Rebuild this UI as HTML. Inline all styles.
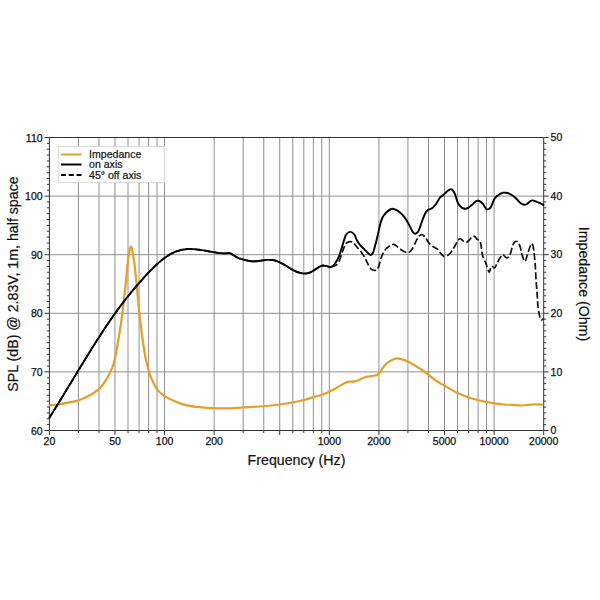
<!DOCTYPE html>
<html><head><meta charset="utf-8"><style>html,body{margin:0;padding:0;background:#fff;width:600px;height:600px;overflow:hidden}svg{display:block}</style></head>
<body><svg width="600" height="600" viewBox="0 0 600 600">
<rect width="600" height="600" fill="#fff"/>
<line x1="78.41" y1="137.5" x2="78.41" y2="430.5" stroke="#8f8f8f" stroke-width="1"/>
<line x1="99.00" y1="137.5" x2="99.00" y2="430.5" stroke="#8f8f8f" stroke-width="1"/>
<line x1="114.97" y1="137.5" x2="114.97" y2="430.5" stroke="#8f8f8f" stroke-width="1"/>
<line x1="128.01" y1="137.5" x2="128.01" y2="430.5" stroke="#8f8f8f" stroke-width="1"/>
<line x1="139.04" y1="137.5" x2="139.04" y2="430.5" stroke="#8f8f8f" stroke-width="1"/>
<line x1="148.60" y1="137.5" x2="148.60" y2="430.5" stroke="#8f8f8f" stroke-width="1"/>
<line x1="157.03" y1="137.5" x2="157.03" y2="430.5" stroke="#8f8f8f" stroke-width="1"/>
<line x1="164.57" y1="137.5" x2="164.57" y2="430.5" stroke="#8f8f8f" stroke-width="1"/>
<line x1="214.17" y1="137.5" x2="214.17" y2="430.5" stroke="#8f8f8f" stroke-width="1"/>
<line x1="243.18" y1="137.5" x2="243.18" y2="430.5" stroke="#8f8f8f" stroke-width="1"/>
<line x1="263.77" y1="137.5" x2="263.77" y2="430.5" stroke="#8f8f8f" stroke-width="1"/>
<line x1="279.73" y1="137.5" x2="279.73" y2="430.5" stroke="#8f8f8f" stroke-width="1"/>
<line x1="292.78" y1="137.5" x2="292.78" y2="430.5" stroke="#8f8f8f" stroke-width="1"/>
<line x1="303.81" y1="137.5" x2="303.81" y2="430.5" stroke="#8f8f8f" stroke-width="1"/>
<line x1="313.37" y1="137.5" x2="313.37" y2="430.5" stroke="#8f8f8f" stroke-width="1"/>
<line x1="321.79" y1="137.5" x2="321.79" y2="430.5" stroke="#8f8f8f" stroke-width="1"/>
<line x1="329.33" y1="137.5" x2="329.33" y2="430.5" stroke="#8f8f8f" stroke-width="1"/>
<line x1="378.93" y1="137.5" x2="378.93" y2="430.5" stroke="#8f8f8f" stroke-width="1"/>
<line x1="407.95" y1="137.5" x2="407.95" y2="430.5" stroke="#8f8f8f" stroke-width="1"/>
<line x1="428.53" y1="137.5" x2="428.53" y2="430.5" stroke="#8f8f8f" stroke-width="1"/>
<line x1="444.50" y1="137.5" x2="444.50" y2="430.5" stroke="#8f8f8f" stroke-width="1"/>
<line x1="457.55" y1="137.5" x2="457.55" y2="430.5" stroke="#8f8f8f" stroke-width="1"/>
<line x1="468.58" y1="137.5" x2="468.58" y2="430.5" stroke="#8f8f8f" stroke-width="1"/>
<line x1="478.13" y1="137.5" x2="478.13" y2="430.5" stroke="#8f8f8f" stroke-width="1"/>
<line x1="486.56" y1="137.5" x2="486.56" y2="430.5" stroke="#8f8f8f" stroke-width="1"/>
<line x1="494.10" y1="137.5" x2="494.10" y2="430.5" stroke="#8f8f8f" stroke-width="1"/>
<line x1="49.4" y1="371.90" x2="543.7" y2="371.90" stroke="#8f8f8f" stroke-width="1"/>
<line x1="49.4" y1="313.30" x2="543.7" y2="313.30" stroke="#8f8f8f" stroke-width="1"/>
<line x1="49.4" y1="254.70" x2="543.7" y2="254.70" stroke="#8f8f8f" stroke-width="1"/>
<line x1="49.4" y1="196.10" x2="543.7" y2="196.10" stroke="#8f8f8f" stroke-width="1"/>
<path d="M49.4,430.5 L49.4,137.5 L543.7,137.5 L543.7,430.5 Z" fill="none" stroke="#333" stroke-width="1"/>
<path d="M44.40,430.50H49.4 M46.90,424.64H49.4 M46.90,418.78H49.4 M46.90,412.92H49.4 M46.90,407.06H49.4 M46.90,401.20H49.4 M46.90,395.34H49.4 M46.90,389.48H49.4 M46.90,383.62H49.4 M46.90,377.76H49.4 M44.40,371.90H49.4 M46.90,366.04H49.4 M46.90,360.18H49.4 M46.90,354.32H49.4 M46.90,348.46H49.4 M46.90,342.60H49.4 M46.90,336.74H49.4 M46.90,330.88H49.4 M46.90,325.02H49.4 M46.90,319.16H49.4 M44.40,313.30H49.4 M46.90,307.44H49.4 M46.90,301.58H49.4 M46.90,295.72H49.4 M46.90,289.86H49.4 M46.90,284.00H49.4 M46.90,278.14H49.4 M46.90,272.28H49.4 M46.90,266.42H49.4 M46.90,260.56H49.4 M44.40,254.70H49.4 M46.90,248.84H49.4 M46.90,242.98H49.4 M46.90,237.12H49.4 M46.90,231.26H49.4 M46.90,225.40H49.4 M46.90,219.54H49.4 M46.90,213.68H49.4 M46.90,207.82H49.4 M46.90,201.96H49.4 M44.40,196.10H49.4 M46.90,190.24H49.4 M46.90,184.38H49.4 M46.90,178.52H49.4 M46.90,172.66H49.4 M46.90,166.80H49.4 M46.90,160.94H49.4 M46.90,155.08H49.4 M46.90,149.22H49.4 M46.90,143.36H49.4 M44.40,137.50H49.4 M543.7,430.50H548.70 M543.7,424.64H546.20 M543.7,418.78H546.20 M543.7,412.92H546.20 M543.7,407.06H546.20 M543.7,401.20H546.20 M543.7,395.34H546.20 M543.7,389.48H546.20 M543.7,383.62H546.20 M543.7,377.76H546.20 M543.7,371.90H548.70 M543.7,366.04H546.20 M543.7,360.18H546.20 M543.7,354.32H546.20 M543.7,348.46H546.20 M543.7,342.60H546.20 M543.7,336.74H546.20 M543.7,330.88H546.20 M543.7,325.02H546.20 M543.7,319.16H546.20 M543.7,313.30H548.70 M543.7,307.44H546.20 M543.7,301.58H546.20 M543.7,295.72H546.20 M543.7,289.86H546.20 M543.7,284.00H546.20 M543.7,278.14H546.20 M543.7,272.28H546.20 M543.7,266.42H546.20 M543.7,260.56H546.20 M543.7,254.70H548.70 M543.7,248.84H546.20 M543.7,242.98H546.20 M543.7,237.12H546.20 M543.7,231.26H546.20 M543.7,225.40H546.20 M543.7,219.54H546.20 M543.7,213.68H546.20 M543.7,207.82H546.20 M543.7,201.96H546.20 M543.7,196.10H548.70 M543.7,190.24H546.20 M543.7,184.38H546.20 M543.7,178.52H546.20 M543.7,172.66H546.20 M543.7,166.80H546.20 M543.7,160.94H546.20 M543.7,155.08H546.20 M543.7,149.22H546.20 M543.7,143.36H546.20 M543.7,137.50H548.70 M49.40,430.5V435.00 M78.41,430.5V433.00 M99.00,430.5V433.00 M114.97,430.5V435.00 M128.01,430.5V433.00 M139.04,430.5V433.00 M148.60,430.5V433.00 M157.03,430.5V433.00 M164.57,430.5V435.00 M214.17,430.5V435.00 M243.18,430.5V433.00 M263.77,430.5V433.00 M279.73,430.5V435.00 M292.78,430.5V433.00 M303.81,430.5V433.00 M313.37,430.5V433.00 M321.79,430.5V433.00 M329.33,430.5V435.00 M378.93,430.5V435.00 M407.95,430.5V433.00 M428.53,430.5V433.00 M444.50,430.5V435.00 M457.55,430.5V433.00 M468.58,430.5V433.00 M478.13,430.5V433.00 M486.56,430.5V433.00 M494.10,430.5V435.00 M543.70,430.5V435.00" stroke="#333" stroke-width="1" fill="none"/>
<path d="M49.40,405.20 C50.83,405.08 54.90,404.92 58.00,404.50 C61.10,404.08 64.67,403.37 68.00,402.70 C71.33,402.03 74.33,401.75 78.00,400.50 C81.67,399.25 86.83,396.87 90.00,395.20 C93.17,393.53 95.33,391.70 97.00,390.50 C98.67,389.30 98.83,389.25 100.00,388.00 C101.17,386.75 102.67,384.92 104.00,383.00 C105.33,381.08 106.83,378.58 108.00,376.50 C109.17,374.42 110.08,372.58 111.00,370.50 C111.92,368.42 112.75,366.42 113.50,364.00 C114.25,361.58 114.83,359.17 115.50,356.00 C116.17,352.83 116.83,348.83 117.50,345.00 C118.17,341.17 118.83,337.17 119.50,333.00 C120.17,328.83 120.92,324.17 121.50,320.00 C122.08,315.83 122.50,312.17 123.00,308.00 C123.50,303.83 124.00,299.58 124.50,295.00 C125.00,290.42 125.50,285.50 126.00,280.50 C126.50,275.50 127.03,269.33 127.50,265.00 C127.97,260.67 128.38,257.25 128.80,254.50 C129.22,251.75 129.63,249.87 130.00,248.50 C130.37,247.13 130.67,246.22 131.00,246.30 C131.33,246.38 131.67,247.63 132.00,249.00 C132.33,250.37 132.57,251.83 133.00,254.50 C133.43,257.17 134.07,260.75 134.60,265.00 C135.13,269.25 135.70,275.00 136.20,280.00 C136.70,285.00 137.13,290.00 137.60,295.00 C138.07,300.00 138.55,305.67 139.00,310.00 C139.45,314.33 139.85,317.25 140.30,321.00 C140.75,324.75 141.17,328.42 141.70,332.50 C142.23,336.58 142.87,341.33 143.50,345.50 C144.13,349.67 144.70,353.50 145.50,357.50 C146.30,361.50 147.27,365.92 148.30,369.50 C149.33,373.08 150.37,375.92 151.70,379.00 C153.03,382.08 154.63,385.50 156.30,388.00 C157.97,390.50 159.47,392.18 161.70,394.00 C163.93,395.82 167.48,397.68 169.70,398.90 C171.92,400.12 173.28,400.57 175.00,401.30 C176.72,402.03 177.78,402.58 180.00,403.30 C182.22,404.02 184.68,404.92 188.30,405.60 C191.92,406.28 197.53,406.97 201.70,407.40 C205.87,407.83 208.58,408.05 213.30,408.20 C218.02,408.35 225.13,408.42 230.00,408.30 C234.87,408.18 236.88,407.84 242.50,407.50 C248.12,407.16 257.50,406.75 263.75,406.25 C270.00,405.75 275.21,405.12 280.00,404.50 C284.79,403.88 288.54,403.25 292.50,402.50 C296.46,401.75 300.21,400.92 303.75,400.00 C307.29,399.08 310.62,397.92 313.75,397.00 C316.88,396.08 319.79,395.46 322.50,394.50 C325.21,393.54 327.42,392.50 330.00,391.25 C332.58,390.00 335.50,388.38 338.00,387.00 C340.50,385.62 343.17,383.90 345.00,383.00 C346.83,382.10 347.33,381.87 349.00,381.60 C350.67,381.33 353.17,381.77 355.00,381.40 C356.83,381.03 358.17,380.13 360.00,379.40 C361.83,378.67 364.00,377.57 366.00,377.00 C368.00,376.43 370.17,376.33 372.00,376.00 C373.83,375.67 375.67,375.62 377.00,375.00 C378.33,374.38 378.83,373.77 380.00,372.30 C381.17,370.83 382.33,368.08 384.00,366.20 C385.67,364.32 387.83,362.30 390.00,361.00 C392.17,359.70 395.00,358.67 397.00,358.40 C399.00,358.13 400.17,358.87 402.00,359.40 C403.83,359.93 406.00,360.67 408.00,361.60 C410.00,362.53 411.67,363.60 414.00,365.00 C416.33,366.40 419.33,368.17 422.00,370.00 C424.67,371.83 427.33,374.00 430.00,376.00 C432.67,378.00 435.58,380.42 438.00,382.00 C440.42,383.58 442.50,384.33 444.50,385.50 C446.50,386.67 447.85,387.77 450.00,389.00 C452.15,390.23 454.33,391.53 457.40,392.90 C460.47,394.27 465.03,396.02 468.40,397.20 C471.77,398.38 474.53,399.20 477.60,400.00 C480.67,400.80 484.05,401.43 486.80,402.00 C489.55,402.57 491.20,402.98 494.10,403.40 C497.00,403.82 500.98,404.25 504.20,404.50 C507.42,404.75 510.65,404.73 513.40,404.90 C516.15,405.07 518.57,405.48 520.70,405.50 C522.83,405.52 524.05,405.20 526.20,405.00 C528.35,404.80 530.72,404.33 533.60,404.30 C536.48,404.27 541.85,404.72 543.50,404.80" fill="none" stroke="#e59e2a" stroke-width="2.2" stroke-linejoin="round"/>
<path d="M49.20,418.11 C49.67,417.36 51.03,415.17 52.00,413.62 C52.97,412.06 54.00,410.39 55.00,408.77 C56.00,407.15 57.00,405.52 58.00,403.89 C59.00,402.26 60.00,400.62 61.00,398.98 C62.00,397.34 63.00,395.70 64.00,394.05 C65.00,392.40 66.00,390.75 67.00,389.10 C68.00,387.45 69.00,385.80 70.00,384.15 C71.00,382.50 72.00,380.85 73.00,379.20 C74.00,377.55 75.00,375.90 76.00,374.25 C77.00,372.60 78.00,370.95 79.00,369.31 C80.00,367.67 81.00,366.03 82.00,364.40 C83.00,362.76 84.00,361.13 85.00,359.50 C86.00,357.88 87.00,356.26 88.00,354.65 C89.00,353.03 90.00,351.43 91.00,349.83 C92.00,348.23 93.00,346.64 94.00,345.05 C95.00,343.47 96.00,341.90 97.00,340.34 C98.00,338.77 99.00,337.22 100.00,335.68 C101.00,334.13 102.00,332.60 103.00,331.08 C104.00,329.56 105.00,328.06 106.00,326.56 C107.00,325.07 108.00,323.59 109.00,322.12 C110.00,320.66 111.00,319.20 112.00,317.77 C113.00,316.33 114.00,314.91 115.00,313.51 C116.00,312.10 117.00,310.72 118.00,309.35 C119.00,307.98 120.00,306.63 121.00,305.30 C122.00,303.96 123.00,302.65 124.00,301.35 C125.00,300.06 126.00,298.78 127.00,297.51 C128.00,296.25 129.00,295.01 130.00,293.78 C131.00,292.55 132.00,291.33 133.00,290.14 C134.00,288.94 135.00,287.75 136.00,286.59 C137.00,285.42 138.00,284.26 139.00,283.12 C140.00,281.98 141.00,280.86 142.00,279.74 C143.00,278.63 144.00,277.53 145.00,276.44 C146.00,275.35 147.00,274.27 148.00,273.21 C149.00,272.15 150.00,271.11 151.00,270.09 C152.00,269.07 153.00,268.07 154.00,267.09 C155.00,266.12 156.00,265.17 157.00,264.26 C158.00,263.34 159.00,262.45 160.00,261.60 C161.00,260.76 162.00,259.94 163.00,259.17 C164.00,258.39 165.00,257.66 166.00,256.97 C167.00,256.28 168.00,255.63 169.00,255.03 C170.00,254.43 171.00,253.87 172.00,253.36 C173.00,252.85 174.00,252.38 175.00,251.96 C176.00,251.54 177.00,251.16 178.00,250.84 C179.00,250.51 180.00,250.24 181.00,250.00 C182.00,249.77 183.00,249.59 184.00,249.44 C185.00,249.30 186.00,249.20 187.00,249.13 C188.00,249.06 189.00,249.03 190.00,249.03 C191.00,249.02 192.00,249.06 193.00,249.11 C194.00,249.16 195.00,249.25 196.00,249.35 C197.00,249.45 198.00,249.57 199.00,249.71 C200.00,249.84 201.00,250.00 202.00,250.16 C203.00,250.32 204.00,250.49 205.00,250.67 C206.00,250.85 207.00,251.03 208.00,251.21 C209.00,251.39 210.00,251.58 211.00,251.76 C212.00,251.93 213.00,252.11 214.00,252.27 C215.00,252.43 216.00,252.59 217.00,252.72 C218.00,252.86 219.00,252.98 220.00,253.08 C221.00,253.18 222.00,253.27 223.00,253.32 C224.00,253.37 224.83,253.42 226.00,253.40 C227.17,253.39 228.67,252.88 230.00,253.22 C231.33,253.57 232.67,254.74 234.00,255.50 C235.33,256.26 236.67,257.18 238.00,257.80 C239.33,258.42 240.50,258.75 242.00,259.20 C243.50,259.65 245.33,260.15 247.00,260.50 C248.67,260.85 250.33,261.18 252.00,261.30 C253.67,261.42 255.33,261.33 257.00,261.20 C258.67,261.07 260.33,260.72 262.00,260.50 C263.67,260.28 265.50,260.00 267.00,259.90 C268.50,259.80 269.67,259.80 271.00,259.90 C272.33,260.00 273.67,260.15 275.00,260.50 C276.33,260.85 277.50,261.33 279.00,262.00 C280.50,262.67 282.50,263.67 284.00,264.50 C285.50,265.33 286.67,266.17 288.00,267.00 C289.33,267.83 290.67,268.75 292.00,269.50 C293.33,270.25 294.67,270.95 296.00,271.50 C297.33,272.05 298.67,272.47 300.00,272.80 C301.33,273.13 302.67,273.43 304.00,273.50 C305.33,273.57 306.67,273.53 308.00,273.20 C309.33,272.87 310.67,272.20 312.00,271.50 C313.33,270.80 314.67,269.83 316.00,269.00 C317.33,268.17 318.83,267.08 320.00,266.50 C321.17,265.92 321.83,265.55 323.00,265.50 C324.17,265.45 325.83,265.92 327.00,266.20 C328.17,266.48 329.00,267.23 330.00,267.20 C331.00,267.17 332.00,266.32 333.00,266.00 C334.00,265.68 335.00,266.00 336.00,265.25 C337.00,264.50 338.12,263.12 339.00,261.50 C339.88,259.88 340.50,257.62 341.25,255.50 C342.00,253.38 342.75,250.70 343.50,248.75 C344.25,246.80 344.88,244.94 345.75,243.80 C346.62,242.66 347.75,242.22 348.75,241.90 C349.75,241.58 350.75,241.50 351.75,241.90 C352.75,242.30 353.75,243.28 354.75,244.30 C355.75,245.32 356.62,246.63 357.75,248.00 C358.88,249.37 360.38,251.00 361.50,252.50 C362.62,254.00 363.62,255.50 364.50,257.00 C365.38,258.50 366.00,260.00 366.75,261.50 C367.50,263.00 368.25,264.72 369.00,266.00 C369.75,267.28 370.50,268.50 371.25,269.20 C372.00,269.90 372.67,270.07 373.50,270.20 C374.33,270.33 375.38,270.66 376.25,270.00 C377.12,269.34 377.92,268.33 378.75,266.25 C379.58,264.17 380.21,260.21 381.25,257.50 C382.29,254.79 383.54,251.98 385.00,250.00 C386.46,248.02 388.54,246.53 390.00,245.60 C391.46,244.67 392.50,244.18 393.75,244.40 C395.00,244.62 396.04,245.87 397.50,246.90 C398.96,247.93 400.75,249.63 402.50,250.60 C404.25,251.57 406.42,252.92 408.00,252.70 C409.58,252.48 410.67,251.20 412.00,249.30 C413.33,247.40 414.78,243.52 416.00,241.30 C417.22,239.08 418.30,237.10 419.30,236.00 C420.30,234.90 421.00,234.48 422.00,234.70 C423.00,234.92 424.18,235.97 425.30,237.30 C426.42,238.63 427.37,241.13 428.70,242.70 C430.03,244.27 431.83,245.62 433.30,246.70 C434.77,247.78 436.38,248.23 437.50,249.20 C438.62,250.17 439.17,251.47 440.00,252.50 C440.83,253.53 441.73,254.70 442.50,255.40 C443.27,256.10 443.83,256.63 444.60,256.70 C445.37,256.77 446.27,256.29 447.10,255.80 C447.93,255.31 448.70,254.72 449.60,253.75 C450.50,252.78 451.60,251.32 452.50,250.00 C453.40,248.68 454.17,247.26 455.00,245.80 C455.83,244.34 456.67,242.43 457.50,241.25 C458.33,240.07 459.17,238.89 460.00,238.75 C460.83,238.61 461.67,239.84 462.50,240.40 C463.33,240.96 464.17,241.88 465.00,242.10 C465.83,242.32 466.67,242.18 467.50,241.70 C468.33,241.22 469.17,240.11 470.00,239.20 C470.83,238.29 471.67,236.67 472.50,236.25 C473.33,235.83 474.25,236.19 475.00,236.70 C475.75,237.21 476.25,238.70 477.00,239.30 C477.75,239.90 478.85,239.47 479.50,240.30 C480.15,241.13 480.53,242.63 480.90,244.30 C481.27,245.97 481.45,248.55 481.70,250.30 C481.95,252.05 482.08,253.42 482.40,254.80 C482.72,256.18 483.15,257.47 483.60,258.60 C484.05,259.73 484.60,260.48 485.10,261.60 C485.60,262.72 486.03,263.73 486.60,265.30 C487.17,266.87 488.02,269.92 488.50,271.00 C488.98,272.08 489.15,272.30 489.50,271.80 C489.85,271.30 490.20,268.93 490.60,268.00 C491.00,267.07 491.23,266.22 491.90,266.20 C492.57,266.18 493.80,268.23 494.60,267.90 C495.40,267.57 496.01,265.52 496.70,264.20 C497.39,262.88 498.07,261.25 498.75,260.00 C499.43,258.75 500.11,257.60 500.80,256.70 C501.49,255.80 502.20,254.60 502.90,254.60 C503.60,254.60 504.30,256.15 505.00,256.70 C505.70,257.25 506.40,258.05 507.10,257.90 C507.80,257.75 508.58,256.70 509.20,255.80 C509.82,254.90 510.32,253.88 510.80,252.50 C511.28,251.12 511.61,249.03 512.10,247.50 C512.59,245.97 513.06,244.34 513.75,243.30 C514.44,242.26 515.42,241.25 516.25,241.25 C517.08,241.25 518.06,242.26 518.75,243.30 C519.44,244.34 519.98,246.10 520.40,247.50 C520.82,248.90 520.92,250.12 521.30,251.70 C521.68,253.28 522.20,255.40 522.70,257.00 C523.20,258.60 523.80,260.75 524.30,261.30 C524.80,261.85 525.30,261.02 525.70,260.30 C526.10,259.58 526.27,258.43 526.70,257.00 C527.13,255.57 527.80,253.25 528.30,251.70 C528.80,250.15 529.20,249.03 529.70,247.70 C530.20,246.37 530.75,244.03 531.30,243.70 C531.85,243.37 532.60,244.70 533.00,245.70 C533.40,246.70 533.48,248.15 533.70,249.70 C533.92,251.25 534.08,253.00 534.30,255.00 C534.52,257.00 534.80,259.48 535.00,261.70 C535.20,263.92 535.33,265.38 535.50,268.30 C535.67,271.22 535.80,275.87 536.00,279.20 C536.20,282.53 536.47,285.25 536.70,288.30 C536.93,291.35 537.22,294.73 537.40,297.50 C537.58,300.27 537.57,302.45 537.80,304.90 C538.03,307.35 538.42,310.07 538.80,312.20 C539.18,314.33 539.65,316.40 540.10,317.70 C540.55,319.00 540.97,319.85 541.50,320.00 C542.03,320.15 543.00,318.83 543.30,318.60" fill="none" stroke="#111" stroke-width="1.7" stroke-dasharray="7 2.6" stroke-linejoin="round"/>
<path d="M49.20,418.11 C49.67,417.36 51.03,415.17 52.00,413.62 C52.97,412.06 54.00,410.39 55.00,408.77 C56.00,407.15 57.00,405.52 58.00,403.89 C59.00,402.26 60.00,400.62 61.00,398.98 C62.00,397.34 63.00,395.70 64.00,394.05 C65.00,392.40 66.00,390.75 67.00,389.10 C68.00,387.45 69.00,385.80 70.00,384.15 C71.00,382.50 72.00,380.85 73.00,379.20 C74.00,377.55 75.00,375.90 76.00,374.25 C77.00,372.60 78.00,370.95 79.00,369.31 C80.00,367.67 81.00,366.03 82.00,364.40 C83.00,362.76 84.00,361.13 85.00,359.50 C86.00,357.88 87.00,356.26 88.00,354.65 C89.00,353.03 90.00,351.43 91.00,349.83 C92.00,348.23 93.00,346.64 94.00,345.05 C95.00,343.47 96.00,341.90 97.00,340.34 C98.00,338.77 99.00,337.22 100.00,335.68 C101.00,334.13 102.00,332.60 103.00,331.08 C104.00,329.56 105.00,328.06 106.00,326.56 C107.00,325.07 108.00,323.59 109.00,322.12 C110.00,320.66 111.00,319.20 112.00,317.77 C113.00,316.33 114.00,314.91 115.00,313.51 C116.00,312.10 117.00,310.72 118.00,309.35 C119.00,307.98 120.00,306.63 121.00,305.30 C122.00,303.96 123.00,302.65 124.00,301.35 C125.00,300.06 126.00,298.78 127.00,297.51 C128.00,296.25 129.00,295.01 130.00,293.78 C131.00,292.55 132.00,291.33 133.00,290.14 C134.00,288.94 135.00,287.75 136.00,286.59 C137.00,285.42 138.00,284.26 139.00,283.12 C140.00,281.98 141.00,280.86 142.00,279.74 C143.00,278.63 144.00,277.53 145.00,276.44 C146.00,275.35 147.00,274.27 148.00,273.21 C149.00,272.15 150.00,271.11 151.00,270.09 C152.00,269.07 153.00,268.07 154.00,267.09 C155.00,266.12 156.00,265.17 157.00,264.26 C158.00,263.34 159.00,262.45 160.00,261.60 C161.00,260.76 162.00,259.94 163.00,259.17 C164.00,258.39 165.00,257.66 166.00,256.97 C167.00,256.28 168.00,255.63 169.00,255.03 C170.00,254.43 171.00,253.87 172.00,253.36 C173.00,252.85 174.00,252.38 175.00,251.96 C176.00,251.54 177.00,251.16 178.00,250.84 C179.00,250.51 180.00,250.24 181.00,250.00 C182.00,249.77 183.00,249.59 184.00,249.44 C185.00,249.30 186.00,249.20 187.00,249.13 C188.00,249.06 189.00,249.03 190.00,249.03 C191.00,249.02 192.00,249.06 193.00,249.11 C194.00,249.16 195.00,249.25 196.00,249.35 C197.00,249.45 198.00,249.57 199.00,249.71 C200.00,249.84 201.00,250.00 202.00,250.16 C203.00,250.32 204.00,250.49 205.00,250.67 C206.00,250.85 207.00,251.03 208.00,251.21 C209.00,251.39 210.00,251.58 211.00,251.76 C212.00,251.93 213.00,252.11 214.00,252.27 C215.00,252.43 216.00,252.59 217.00,252.72 C218.00,252.86 219.00,252.98 220.00,253.08 C221.00,253.18 222.00,253.27 223.00,253.32 C224.00,253.37 224.83,253.42 226.00,253.40 C227.17,253.39 228.67,252.88 230.00,253.22 C231.33,253.57 232.67,254.74 234.00,255.50 C235.33,256.26 236.67,257.18 238.00,257.80 C239.33,258.42 240.50,258.75 242.00,259.20 C243.50,259.65 245.33,260.15 247.00,260.50 C248.67,260.85 250.33,261.18 252.00,261.30 C253.67,261.42 255.33,261.33 257.00,261.20 C258.67,261.07 260.33,260.72 262.00,260.50 C263.67,260.28 265.50,260.00 267.00,259.90 C268.50,259.80 269.67,259.80 271.00,259.90 C272.33,260.00 273.67,260.15 275.00,260.50 C276.33,260.85 277.50,261.33 279.00,262.00 C280.50,262.67 282.50,263.67 284.00,264.50 C285.50,265.33 286.67,266.17 288.00,267.00 C289.33,267.83 290.67,268.75 292.00,269.50 C293.33,270.25 294.67,270.95 296.00,271.50 C297.33,272.05 298.67,272.47 300.00,272.80 C301.33,273.13 302.67,273.43 304.00,273.50 C305.33,273.57 306.67,273.53 308.00,273.20 C309.33,272.87 310.67,272.20 312.00,271.50 C313.33,270.80 314.67,269.83 316.00,269.00 C317.33,268.17 318.83,267.08 320.00,266.50 C321.17,265.92 321.83,265.55 323.00,265.50 C324.17,265.45 325.83,265.92 327.00,266.20 C328.17,266.48 329.00,267.23 330.00,267.20 C331.00,267.17 332.00,266.87 333.00,266.00 C334.00,265.13 335.00,263.62 336.00,262.00 C337.00,260.38 338.12,258.38 339.00,256.30 C339.88,254.22 340.50,251.88 341.25,249.50 C342.00,247.12 342.75,244.38 343.50,242.00 C344.25,239.62 344.88,236.88 345.75,235.25 C346.62,233.62 347.75,232.75 348.75,232.25 C349.75,231.75 350.75,231.75 351.75,232.25 C352.75,232.75 353.88,233.88 354.75,235.25 C355.62,236.62 356.12,238.88 357.00,240.50 C357.88,242.12 358.88,243.62 360.00,245.00 C361.12,246.38 362.50,247.50 363.75,248.75 C365.00,250.00 366.36,251.46 367.50,252.50 C368.64,253.54 369.67,255.00 370.60,255.00 C371.53,255.00 372.27,254.38 373.10,252.50 C373.93,250.62 374.77,246.88 375.60,243.75 C376.43,240.62 377.37,236.88 378.10,233.75 C378.83,230.62 379.27,227.71 380.00,225.00 C380.73,222.29 381.46,219.58 382.50,217.50 C383.54,215.42 384.79,213.92 386.25,212.50 C387.71,211.08 389.79,209.52 391.25,209.00 C392.71,208.48 393.54,208.82 395.00,209.40 C396.46,209.98 398.50,211.28 400.00,212.50 C401.50,213.72 402.67,215.00 404.00,216.70 C405.33,218.40 406.88,220.82 408.00,222.70 C409.12,224.58 409.82,226.33 410.70,228.00 C411.58,229.67 412.42,231.77 413.30,232.70 C414.18,233.63 415.10,233.93 416.00,233.60 C416.90,233.27 417.70,232.75 418.70,230.70 C419.70,228.65 420.90,224.20 422.00,221.30 C423.10,218.40 424.30,215.18 425.30,213.30 C426.30,211.42 426.88,210.83 428.00,210.00 C429.12,209.17 430.67,209.30 432.00,208.30 C433.33,207.30 434.67,205.80 436.00,204.00 C437.33,202.20 438.78,199.00 440.00,197.50 C441.22,196.00 442.18,195.97 443.30,195.00 C444.42,194.03 445.58,192.65 446.70,191.70 C447.82,190.75 449.03,189.58 450.00,189.30 C450.97,189.02 451.67,189.18 452.50,190.00 C453.33,190.82 454.23,192.40 455.00,194.20 C455.77,196.00 456.40,199.00 457.10,200.80 C457.80,202.60 458.37,203.82 459.20,205.00 C460.03,206.18 461.13,207.28 462.10,207.90 C463.07,208.53 463.97,208.75 465.00,208.75 C466.03,208.75 467.13,208.58 468.30,207.90 C469.47,207.22 470.72,205.80 472.00,204.70 C473.28,203.60 475.00,201.95 476.00,201.30 C477.00,200.65 477.33,200.80 478.00,200.80 C478.67,200.80 479.33,200.93 480.00,201.30 C480.67,201.67 481.38,202.38 482.00,203.00 C482.62,203.62 483.20,204.28 483.70,205.00 C484.20,205.72 484.50,206.58 485.00,207.30 C485.50,208.02 486.08,209.02 486.70,209.30 C487.32,209.58 488.03,209.33 488.70,209.00 C489.37,208.67 490.15,208.02 490.70,207.30 C491.25,206.58 491.57,205.70 492.00,204.70 C492.43,203.70 492.80,202.42 493.30,201.30 C493.80,200.18 494.43,198.83 495.00,198.00 C495.57,197.17 496.08,196.80 496.70,196.30 C497.32,195.80 498.03,195.43 498.70,195.00 C499.37,194.57 499.93,194.08 500.70,193.70 C501.47,193.32 502.42,192.87 503.30,192.70 C504.18,192.53 505.10,192.60 506.00,192.70 C506.90,192.80 507.74,192.92 508.70,193.30 C509.66,193.68 510.74,194.34 511.75,195.00 C512.76,195.66 513.75,196.38 514.75,197.25 C515.75,198.12 516.75,199.25 517.75,200.25 C518.75,201.25 519.62,202.50 520.75,203.25 C521.88,204.00 523.38,204.69 524.50,204.75 C525.62,204.81 526.50,204.22 527.50,203.60 C528.50,202.97 529.62,201.53 530.50,201.00 C531.38,200.47 531.88,200.33 532.75,200.40 C533.62,200.47 534.62,200.98 535.75,201.40 C536.88,201.82 538.12,202.25 539.50,202.90 C540.88,203.55 543.25,204.90 544.00,205.30" fill="none" stroke="#000" stroke-width="1.9" stroke-linejoin="round"/>
<rect x="58.3" y="146.5" width="106.1" height="36" fill="#fff" stroke="#dcdae0" stroke-width="1"/>
<line x1="61" y1="154.5" x2="81.5" y2="154.5" stroke="#e59e2a" stroke-width="2"/>
<line x1="61" y1="164.5" x2="81.5" y2="164.5" stroke="#000" stroke-width="2"/>
<line x1="61" y1="175" x2="81.5" y2="175" stroke="#000" stroke-width="1.8" stroke-dasharray="5 2.75"/>
<g style="font-family:&quot;Liberation Sans&quot;,sans-serif" font-size="10.6" fill="#111" stroke="#111" stroke-width="0.2"><text x="89" y="158">Impedance</text><text x="89" y="168">on axis</text><text x="89" y="178.5">45° off axis</text></g>
<g style="font-family:&quot;Liberation Sans&quot;,sans-serif" font-size="10.5" fill="#111" stroke="#111" stroke-width="0.25"><text x="42.6" y="434.60" text-anchor="end">60</text><text x="42.6" y="376.00" text-anchor="end">70</text><text x="42.6" y="317.40" text-anchor="end">80</text><text x="42.6" y="258.80" text-anchor="end">90</text><text x="42.6" y="200.20" text-anchor="end">100</text><text x="42.6" y="141.60" text-anchor="end">110</text><text x="550.6" y="434.10">0</text><text x="550.6" y="375.50">10</text><text x="550.6" y="316.90">20</text><text x="550.6" y="258.30">30</text><text x="550.6" y="199.70">40</text><text x="550.6" y="141.10">50</text><text x="49.40" y="444.5" text-anchor="middle">20</text><text x="114.97" y="444.5" text-anchor="middle">50</text><text x="164.57" y="444.5" text-anchor="middle">100</text><text x="214.17" y="444.5" text-anchor="middle">200</text><text x="329.33" y="444.5" text-anchor="middle">1000</text><text x="378.93" y="444.5" text-anchor="middle">2000</text><text x="444.50" y="444.5" text-anchor="middle">5000</text><text x="494.10" y="444.5" text-anchor="middle">10000</text><text x="543.70" y="444.5" text-anchor="middle">20000</text></g>
<g style="font-family:&quot;Liberation Sans&quot;,sans-serif" font-size="14.2" fill="#111" stroke="#111" stroke-width="0.2"><text x="296.5" y="465" text-anchor="middle">Frequency (Hz)</text><text transform="translate(18,284) rotate(-90)" text-anchor="middle">SPL (dB) @ 2.83V, 1m, half space</text><text transform="translate(579,284) rotate(90)" text-anchor="middle">Impedance (Ohm)</text></g>
</svg></body></html>
